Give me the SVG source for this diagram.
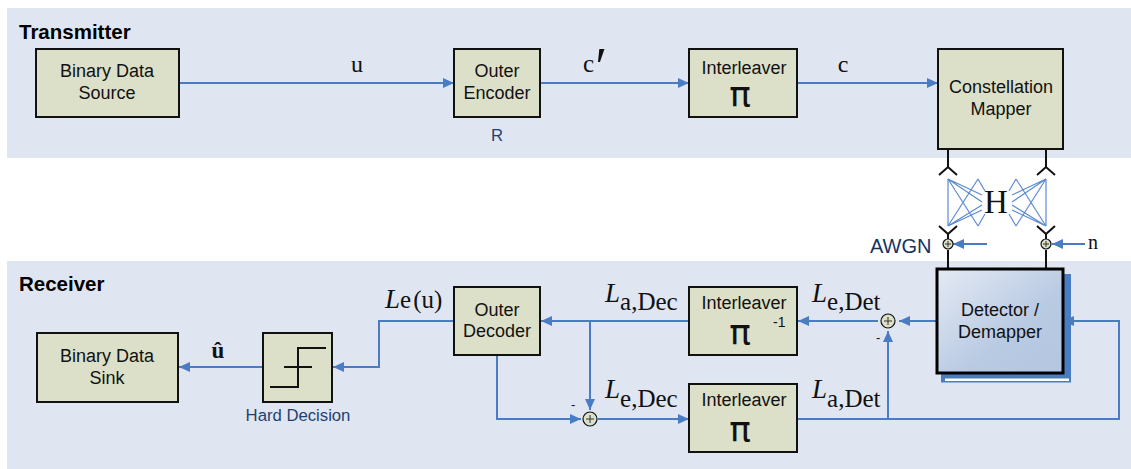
<svg xmlns="http://www.w3.org/2000/svg" width="1131" height="469" viewBox="0 0 1131 469">
<style>
.b{fill:#dce0c9;stroke:#111;stroke-width:2}
.t{font:18px "Liberation Sans",Arial,sans-serif;fill:#111;text-anchor:middle}
.h{font:bold 20.5px "Liberation Sans",Arial,sans-serif;fill:#000}
.n{font:16.7px "Liberation Sans",Arial,sans-serif;fill:#1f3f73;text-anchor:middle}
.m{font-family:"Liberation Serif","Times New Roman",serif;fill:#111}
.pi{font:36px "DejaVu Sans",sans-serif;fill:#111;text-anchor:middle}
.w{fill:none;stroke:#4a7cc4;stroke-width:2}
.k{fill:none;stroke:#111;stroke-width:2}
.x{fill:none;stroke:#5b8bd0;stroke-width:1.2}
.s{fill:#dce0c9;stroke:#111;stroke-width:1.2}
.p{fill:none;stroke:#333;stroke-width:1}
</style>
<defs>
<marker id="a" markerUnits="userSpaceOnUse" markerWidth="12" markerHeight="10" refX="11" refY="5" orient="auto"><path d="M0 0L11 5L0 10Z" fill="#4a7cc4"/></marker>
<linearGradient id="g" x1="0" y1="0" x2="1" y2="1"><stop offset="0" stop-color="#e4eaf4"/><stop offset=".6" stop-color="#b9cae3"/><stop offset="1" stop-color="#b4c6e0"/></linearGradient>
</defs>
<rect x="0" y="0" width="1131" height="469" fill="#fff"/>
<rect x="7" y="8" width="1124" height="150" fill="#e0e6f1"/>
<rect x="7" y="261" width="1124" height="208" fill="#e0e6f1"/>
<text class="h" x="19" y="39">Transmitter</text>
<text class="h" x="19" y="291">Receiver</text>

<g id="connectors">
<path class="w" marker-end="url(#a)" d="M179 83H454"/>
<path class="w" marker-end="url(#a)" d="M540 83H689"/>
<path class="w" marker-end="url(#a)" d="M797 83H938"/>
<path class="w" marker-end="url(#a)" d="M937 321H899"/>
<path class="w" marker-end="url(#a)" d="M878 321H798"/>
<path class="w" marker-end="url(#a)" d="M689 321H541"/>
<path class="w" marker-end="url(#a)" d="M590 321V410"/>
<path class="w" marker-end="url(#a)" d="M497 355V419H581"/>
<path class="w" marker-end="url(#a)" d="M598 419H689"/>
<path class="w" marker-end="url(#a)" d="M454 321H379V367H333"/>
<path class="w" marker-end="url(#a)" d="M263 367H179"/>
<path class="w" marker-end="url(#a)" d="M797 419H1119V321H1063"/>
<path class="w" marker-end="url(#a)" d="M888 419V331"/>
<path class="w" stroke-width="2.5" marker-end="url(#a)" d="M987 244H953"/>
<path class="w" stroke-width="2.5" marker-end="url(#a)" d="M1085 244H1052"/>
<path class="k" d="M948 149V167M939 175L948 167L957 175M1046 149V167M1037 175L1046 167L1055 175"/>
<path class="k" d="M939 226L948 234V239M957 226L948 234M1037 226L1046 234V239M1055 226L1046 234M948 250V269M1046 250V269"/>
<path class="x" d="M948 179V226M1046 179V226"/>
<path class="x" d="M948 179L978 226M978 179L948 226M948 179L982 195M948 179L982 202M948 226L982 210M948 226L982 205M978 179L985 191M978 226L985 214"/>
<path class="x" d="M1046 179L1016 226M1016 179L1046 226M1046 179L1012 195M1046 179L1012 202M1046 226L1012 210M1046 226L1012 205M1016 179L1009 191M1016 226L1009 214"/>
</g>

<g id="source"><rect class="b" x="36" y="49" width="143" height="68"/><text class="t" x="107" y="77">Binary Data</text><text class="t" x="107" y="99">Source</text></g>
<g id="encoder"><rect class="b" x="454" y="49" width="86" height="68"/><text class="t" x="497" y="77">Outer</text><text class="t" x="497" y="99">Encoder</text></g>
<g id="interleaver1"><rect class="b" x="689" y="49" width="108" height="68"/><text class="t" x="744" y="74">Interleaver</text><text class="pi" x="740" y="107">π</text></g>
<g id="mapper"><rect class="b" x="938" y="49" width="125" height="100"/><text class="t" x="1001" y="93">Constellation</text><text class="t" x="1001" y="115">Mapper</text></g>
<g id="detector">
<path d="M941 274H1071V382.500H941Z" fill="#4a7cc4"/>
<rect x="945" y="378.500" width="124" height="2.500" fill="#fff"/>
<rect x="937" y="269" width="126" height="104" fill="url(#g)" stroke="#000" stroke-width="3"/>
<text class="t" x="1000" y="316">Detector /</text><text class="t" x="1000" y="338">Demapper</text></g>
<g id="decoder"><rect class="b" x="454" y="287" width="86" height="68"/><text class="t" x="497" y="316">Outer</text><text class="t" x="497" y="337">Decoder</text></g>
<g id="deinterleaver"><rect class="b" x="689" y="287" width="108" height="68"/><text class="t" x="744" y="309">Interleaver</text><text class="pi" x="740" y="345">π</text><text x="773" y="327" style="font:14px 'Liberation Sans',Arial,sans-serif;fill:#111">-1</text></g>
<g id="interleaver2"><rect class="b" x="689" y="384" width="108" height="68"/><text class="t" x="744" y="406">Interleaver</text><text class="pi" x="740" y="442">π</text></g>
<g id="sink"><rect class="b" x="37" y="333" width="141" height="69"/><text class="t" x="107" y="362">Binary Data</text><text class="t" x="107" y="384">Sink</text></g>
<g id="hard"><rect class="b" x="263" y="333" width="69" height="69"/><path class="k" d="M270 387H298V348H326M284 367H312"/><text class="n" x="298" y="421">Hard Decision</text></g>

<g id="sum1"><circle class="s" cx="948" cy="244" r="5"/><path class="p" d="M945 244H951M948 241V247"/></g>
<g id="sum2"><circle class="s" cx="1046" cy="244" r="5"/><path class="p" d="M1043 244H1049M1046 241V247"/></g>
<g id="sum3"><circle class="s" cx="888" cy="321" r="7"/><path class="p" d="M884 321H892M888 317V325"/></g>
<g id="sum4"><circle class="s" cx="590" cy="419" r="7"/><path class="p" d="M586 419H594M590 415V423"/></g>

<text class="m" x="357" y="72" font-size="24" text-anchor="middle">u</text>
<text class="m" x="583" y="72" font-size="25">c</text>
<text class="m" x="592" y="85" font-size="54" font-style="italic">′</text>
<text class="m" x="843" y="72" font-size="24" text-anchor="middle">c</text>
<text class="n" x="497" y="141">R</text>
<text class="m" x="996" y="213" font-size="33" text-anchor="middle" fill="#000">H</text>
<text x="870" y="253" style="font:20px 'Liberation Sans',Arial,sans-serif;fill:#15335f">AWGN</text>
<text class="m" x="1088" y="249" font-size="20">n</text>
<text class="m" x="385" y="308" font-size="27"><tspan font-style="italic">L</tspan><tspan font-size="25">e</tspan><tspan dx="2" font-size="25">(u)</tspan></text>
<text class="m" x="605" y="302" font-size="27"><tspan font-style="italic">L</tspan><tspan font-size="25" dy="8">a,Dec</tspan></text>
<text class="m" x="605" y="398" font-size="27"><tspan font-style="italic">L</tspan><tspan font-size="25" dy="9">e,Dec</tspan></text>
<text class="m" x="812" y="302" font-size="27"><tspan font-style="italic">L</tspan><tspan font-size="25" dy="8">e,Det</tspan></text>
<text class="m" x="812" y="398" font-size="27"><tspan font-style="italic">L</tspan><tspan font-size="25" dy="9">a,Det</tspan></text>
<text class="m" x="218" y="358" font-size="23" font-weight="bold" text-anchor="middle">û</text>
<text x="876" y="342" style="font:13px 'Liberation Sans',Arial,sans-serif;fill:#111">-</text>
<text x="571" y="409" style="font:13px 'Liberation Sans',Arial,sans-serif;fill:#111">-</text>
</svg>
